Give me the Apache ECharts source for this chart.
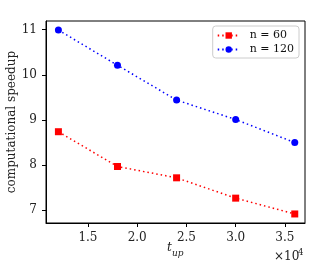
<!DOCTYPE html>
<html><head><meta charset="utf-8">
<script src="https://cdn.jsdelivr.net/npm/echarts@6/dist/echarts.min.js"></script>
<style>html,body{margin:0;padding:0;background:#fff}#c{width:332px;height:266px}</style>
</head><body><div id="c"></div>
<script>
const xValues = [1.2, 1.8, 2.4, 3.0, 3.6];
const n60 = [8.74, 7.97, 7.72, 7.27, 6.92];
const n120 = [10.99, 10.21, 9.44, 9.01, 8.50];
const xTicks = [1.5, 2.0, 2.5, 3.0, 3.5];
const yTicks = [7, 8, 9, 10, 11];
const seriesNames = ['n = 60', 'n = 120'];

const font = 'DejaVu Serif';
const chart = echarts.init(document.getElementById('c'));
chart.setOption({
  animation: false,
  grid: {left: 46, right: 27, top: 21, bottom: 43, show: true, borderColor: '#000', borderWidth: 1,
         containLabel: false, outerBoundsMode: 'none'},
  legend: {
    right: 33, top: 26, orient: 'vertical', itemWidth: 22, itemHeight: 8, itemGap: 3,
    padding: [4, 5, 3, 4], borderColor: '#ccc', borderWidth: 1, borderRadius: 3,
    textStyle: {fontFamily: font, fontSize: 11, color: '#111', padding: [0, 0, 0, 5]},
    data: seriesNames
  },
  xAxis: {
    type: 'value', min: 1.074, max: 3.704,
    axisLine: {show: true, onZero: false, lineStyle: {color: '#000', width: 1}},
    axisTick: {show: true, length: 4, customValues: xTicks, lineStyle: {color: '#000'}},
    axisLabel: {customValues: xTicks, fontFamily: font, fontSize: 12, color: '#222', margin: 9,
      formatter: v => v.toFixed(1)},
    splitLine: {show: false}
  },
  yAxis: {
    type: 'value', min: 6.72, max: 11.19,
    axisLine: {show: true, onZero: false, lineStyle: {color: '#000', width: 1}},
    axisTick: {show: true, length: 4, customValues: yTicks, lineStyle: {color: '#000'}},
    axisLabel: {customValues: yTicks, fontFamily: font, fontSize: 12, color: '#222', margin: 9},
    splitLine: {show: false},
    name: 'computational speedup', nameLocation: 'middle', nameGap: 28, nameMoveOverlap: false,
    nameTextStyle: {fontFamily: font, fontSize: 12, color: '#222'}
  },
  graphic: [
    {type: 'text', left: 167, top: 242, style: {text: 't', font: 'italic 12px ' + font, fill: '#222'}},
    {type: 'text', left: 172, top: 249, style: {text: 'up', font: 'italic 9px ' + font, fill: '#222'}},
    {type: 'text', left: 274, top: 251, style: {text: '×10', font: '12px ' + font, fill: '#222'}},
    {type: 'text', left: 298, top: 248, style: {text: '4', font: '8.5px ' + font, fill: '#222'}}
  ],
  series: [
    {name: seriesNames[0], type: 'line', data: xValues.map((x, i) => [x, n60[i]]),
     symbol: 'rect', symbolSize: 7, itemStyle: {color: '#ff0000'},
     lineStyle: {color: '#ff0000', width: 1.5, type: [1.5, 3]}},
    {name: seriesNames[1], type: 'line', data: xValues.map((x, i) => [x, n120[i]]),
     symbol: 'circle', symbolSize: 7, itemStyle: {color: '#0000ff'},
     lineStyle: {color: '#0000ff', width: 1.5, type: [1.5, 3]}}
  ]
});
</script></body></html>
